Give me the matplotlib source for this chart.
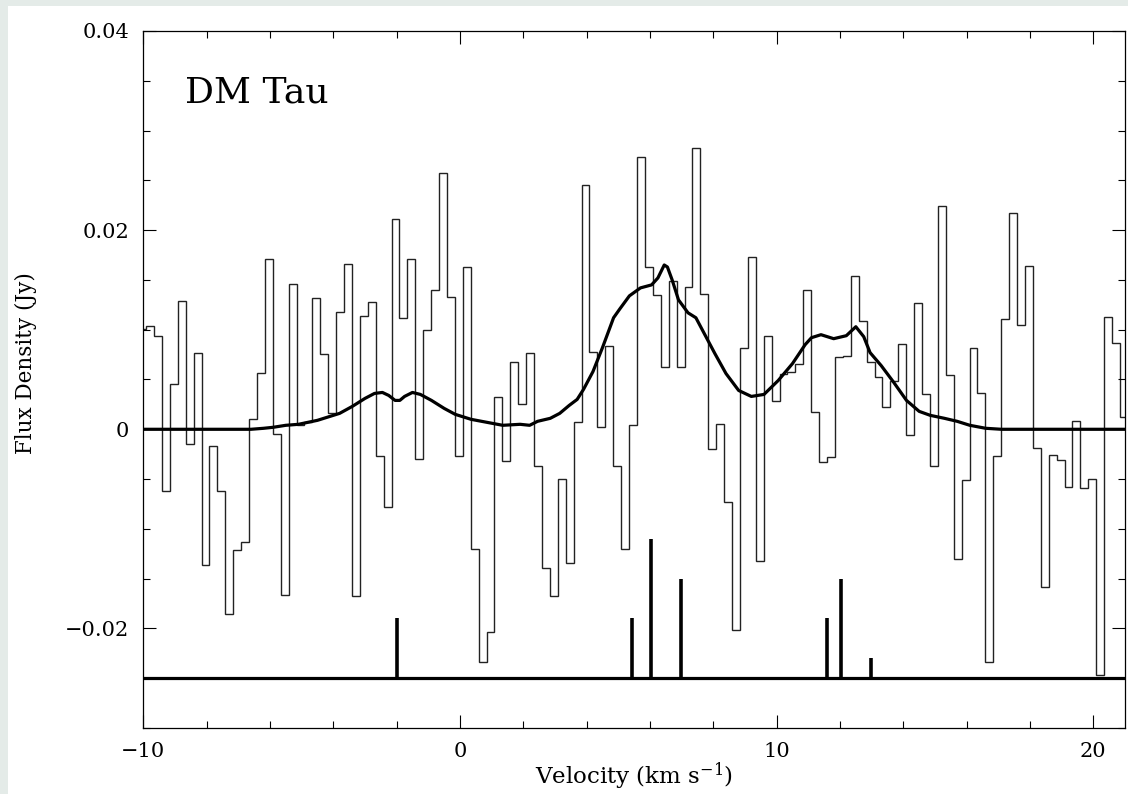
"""
DM Tau spectrum: observed channels (histogram), model profile (thick curve)
and hyperfine stick pattern below the spectrum.
"""

import numpy as np
import matplotlib
matplotlib.use("Agg")
import matplotlib.pyplot as plt
from matplotlib.patches import Rectangle


# ─── Data ─────────────────────────────────────────────────────────────────────
CHAN_START = -10.16     # left edge of first channel (km/s)
CHAN_WIDTH = 0.25       # channel width (km/s)

# observed flux per channel (Jy), 125 channels
flux = [
    0.0101, 0.0104, 0.0094, -0.0062, 0.0045, 0.0129, -0.0015, 0.0077, -0.0136, -0.0017,
    -0.0062, -0.0186, -0.0121, -0.0113, 0.0010, 0.0057, 0.0171, -0.0005, -0.0166, 0.0146,
    0.0004, 0.0007, 0.0132, 0.0076, 0.0016, 0.0118, 0.0166, -0.0167, 0.0114, 0.0128,
    -0.0027, -0.0078, 0.0211, 0.0112, 0.0171, -0.0030, 0.0100, 0.0140, 0.0257, 0.0133,
    -0.0027, 0.0163, -0.0120, -0.0234, -0.0204, 0.0032, -0.0032, 0.0068, 0.0025, 0.0077,
    -0.0037, -0.0139, -0.0167, -0.0050, -0.0134, 0.0007, 0.0245, 0.0078, 0.0002, 0.0084,
    -0.0037, -0.0120, 0.0004, 0.0273, 0.0163, 0.0135, 0.0063, 0.0149, 0.0063, 0.0143,
    0.0282, 0.0136, -0.0020, 0.0005, -0.0073, -0.0202, 0.0082, 0.0173, -0.0132, 0.0094,
    0.0028, 0.0056, 0.0058, 0.0066, 0.0140, 0.0017, -0.0033, -0.0028, 0.0073, 0.0074,
    0.0154, 0.0109, 0.0068, 0.0053, 0.0022, 0.0048, 0.0086, -0.0006, 0.0127, 0.0035,
    -0.0037, 0.0224, 0.0055, -0.0130, -0.0051, 0.0082, 0.0036, -0.0234, -0.0027, 0.0111,
    0.0217, 0.0105, 0.0164, -0.0019, -0.0158, -0.0026, -0.0031, -0.0058, 0.0008, -0.0059,
    -0.0050, -0.0247, 0.0113, 0.0087, 0.0012,
]

# model profile
model_v = [
    -10.0, -6.6, -6.2, -5.9, -5.5, -5.1, -4.8, -4.5, -4.2, -3.8, -3.4, -3.0, -2.7,
    -2.45, -2.25, -2.05, -1.9, -1.75, -1.5, -1.25, -0.9, -0.5, -0.15, 0.35, 0.85,
    1.35, 1.9, 2.2, 2.45, 2.85, 3.15, 3.45, 3.7, 3.9, 4.2, 4.5, 4.85, 5.05, 5.35,
    5.7, 6.05, 6.25, 6.45, 6.55, 6.7, 6.9, 7.2, 7.45, 7.75, 8.05, 8.4, 8.8, 9.2,
    9.6, 10.05, 10.5, 10.9, 11.1, 11.4, 11.8, 12.2, 12.5, 12.75, 12.95, 13.3, 13.7,
    14.1, 14.5, 14.85, 15.3, 15.7, 16.1, 16.6, 17.1, 21.0,
]
model_flux = [
    0.0, 0.0, 0.0001, 0.0002, 0.0004, 0.0005, 0.0007, 0.0009, 0.0012, 0.0016, 0.0023,
    0.0031, 0.0036, 0.0037, 0.0034, 0.0029, 0.0029, 0.0033, 0.0037, 0.0035, 0.0029,
    0.0021, 0.0015, 0.0010, 0.0007, 0.0004, 0.0005, 0.0004, 0.0008, 0.0011, 0.0016,
    0.0024, 0.0030, 0.0040, 0.0058, 0.0082, 0.0112, 0.0121, 0.0134, 0.0142, 0.0145,
    0.0152, 0.0165, 0.0163, 0.0150, 0.0130, 0.0117, 0.0112, 0.0094, 0.0076, 0.0056,
    0.0039, 0.0033, 0.0035, 0.0049, 0.0066, 0.0085, 0.0092, 0.0095, 0.0091, 0.0094,
    0.0103, 0.0093, 0.0077, 0.0064, 0.0047, 0.0029, 0.0018, 0.0014, 0.0011, 0.0008,
    0.0004, 0.0001, 0.0, 0.0,
]

# hyperfine components (stick pattern)
STICK_BASE = -0.025
stick_v   = [-2.0, 5.42, 6.03, 6.98, 11.58, 12.02, 12.97]
stick_top = [-0.019, -0.019, -0.011, -0.015, -0.019, -0.015, -0.023]

SOURCE = "DM Tau"


# ─── Style ────────────────────────────────────────────────────────────────────
plt.rcParams['font.family'] = ['DejaVu Serif']
plt.rcParams['mathtext.fontset'] = 'dejavuserif'

W, H = 1128, 794
fig = plt.figure(figsize=(W / 100, H / 100), dpi=100, facecolor='#e4ebe8')
fig.patches.append(Rectangle((8 / W, 0), 1 - 8 / W, 1 - 6 / H,
                             transform=fig.transFigure, facecolor='white',
                             edgecolor='none', zorder=-10))

ax = fig.add_axes([143.3 / W, 66 / H, (1125 - 143.3) / W, (763 - 66) / H])
ax.set_facecolor('white')


# ─── Plot ─────────────────────────────────────────────────────────────────────
edges = CHAN_START + CHAN_WIDTH * np.arange(len(flux) + 1)
ax.stairs(flux, edges, baseline=None, color='#222222', lw=1.0)
ax.plot(model_v, model_flux, color='black', lw=2.3, solid_capstyle='round',
        solid_joinstyle='round')
ax.axhline(STICK_BASE, color='black', lw=2.3)
ax.vlines(stick_v, STICK_BASE, stick_top, color='black', lw=2.6)

ax.set_xlim(-10, 21)
ax.set_ylim(-0.03, 0.04)
ax.set_xticks([-10, 0, 10, 20])
ax.set_xticklabels(['\u221210', '0', '10', '20'])
ax.set_xticks(np.arange(-10, 22, 2), minor=True)
ax.set_yticks([-0.02, 0, 0.02, 0.04])
ax.set_yticklabels(['\u22120.02', '0', '0.02', '0.04'])
ax.set_yticks(np.arange(-0.03, 0.0401, 0.005), minor=True)

ax.tick_params(which='both', direction='in', top=True, right=True, width=0.8,
               labelsize=15)
ax.tick_params(which='major', length=9.5)
ax.tick_params(which='minor', length=5)
ax.tick_params(axis='x', pad=10)
ax.tick_params(axis='y', pad=10)
for sp in ax.spines.values():
    sp.set_linewidth(0.9)

ax.text(0.0425, 0.898, SOURCE, transform=ax.transAxes, fontsize=26,
        va='baseline', ha='left')

fig.text(634 / W, 1 - 784 / H, 'Velocity (km s$^{-1}$)', fontsize=16.5,
         ha='center', va='baseline')
fig.text(26 / W, 1 - 363 / H, 'Flux Density (Jy)', fontsize=15.5,
         ha='center', va='center', rotation=90)

fig.savefig('out.png', dpi=100, facecolor=fig.get_facecolor())
